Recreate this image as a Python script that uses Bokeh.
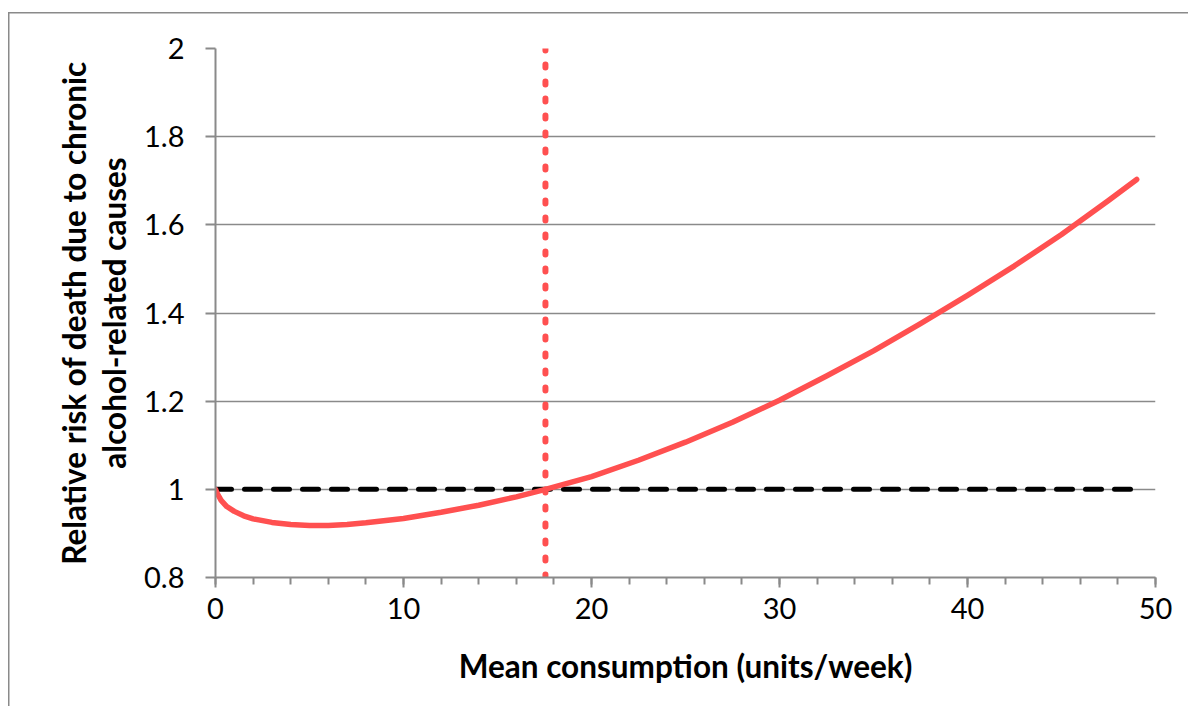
from bokeh.plotting import figure
from bokeh.models import Range1d, FixedTicker
from bokeh.embed import file_html
from bokeh.resources import INLINE

# ---- data ----
consumption = [0, 0.1, 0.3, 0.6, 1, 1.5, 2, 3, 4, 5, 6, 7, 8, 10, 12, 14, 16, 17.55,
               20, 22.5, 25, 27.5, 30, 32.5, 35, 37.5, 40, 42.5, 45, 47.5, 49]
relative_risk = [1.0, 0.99, 0.975, 0.961, 0.95, 0.94, 0.933, 0.925, 0.920, 0.918, 0.918,
                 0.920, 0.924, 0.934, 0.948, 0.964, 0.983, 1.0,
                 1.029, 1.066, 1.107, 1.152, 1.202, 1.257, 1.314, 1.376, 1.44, 1.507,
                 1.578, 1.655, 1.703]
baseline_x = [0, 49]
baseline_y = [1, 1]
threshold_x = [17.55, 17.55]
threshold_y = [0.8, 2.0]

x_ticks = [0, 10, 20, 30, 40, 50]
x_minor_ticks = [0, 2, 4, 6, 8, 10, 12, 14, 16, 18, 20, 22, 24, 26, 28, 30,
                 32, 34, 36, 38, 40, 42, 44, 46, 48, 50]
y_ticks = [0.8, 1.0, 1.2, 1.4, 1.6, 1.8, 2.0]
y_tick_labels = ["0.8", "1", "1.2", "1.4", "1.6", "1.8", "2"]

x_title = "Mean consumption (units/week)"
y_title = "Relative risk of death due to chronic\nalcohol-related causes"

FONT = "Lato"
GRID = "#8a8a8a"
RED = "#ff5050"

p = figure(width=1188, height=706, output_backend="svg", toolbar_location=None,
           x_range=Range1d(0, 50), y_range=Range1d(0.8, 2.0),
           min_border_left=215, min_border_right=33, min_border_top=48, min_border_bottom=129)
p.outline_line_color = None
p.background_fill_color = "white"
p.border_fill_color = None

# outer chart border (only its left / top edges fall inside the window)
p.stylesheets = [""":host {
  background-color: white;
  background-image: linear-gradient(#8a8a8a, #8a8a8a), linear-gradient(#8a8a8a, #8a8a8a);
  background-position: 8px 12px, 8px 12px;
  background-size: 1.5px 100%, 100% 1.5px;
  background-repeat: no-repeat;
}"""]

# axes
p.xaxis.ticker = FixedTicker(ticks=x_ticks, minor_ticks=x_minor_ticks)
p.yaxis.ticker = FixedTicker(ticks=y_ticks)
p.yaxis.major_label_overrides = {t: l for t, l in zip(y_ticks, y_tick_labels)}

for ax in (p.xaxis[0], p.yaxis[0]):
    ax.axis_line_color = GRID
    ax.axis_line_width = 2
    ax.major_tick_line_color = GRID
    ax.major_tick_line_width = 2
    ax.major_tick_in = 0
    ax.major_tick_out = 10
    ax.major_label_text_font = FONT
    ax.major_label_text_font_size = "29px"
    ax.major_label_text_color = "black"
    ax.axis_label_text_font = FONT
    ax.axis_label_text_font_style = "bold"
    ax.axis_label_text_font_size = "31.5px"
    ax.axis_label_text_color = "black"
    ax.axis_label_text_line_height = 1.05

p.xaxis.minor_tick_line_color = GRID
p.xaxis.minor_tick_line_width = 2
p.xaxis.minor_tick_in = 0
p.xaxis.minor_tick_out = 7
p.yaxis.minor_tick_line_color = None
p.xaxis.major_label_standoff = 10
p.yaxis.major_label_standoff = 21
p.xaxis.axis_label = x_title
p.yaxis.axis_label = y_title
p.xaxis.axis_label_standoff = 25
p.yaxis.axis_label_standoff = 8

p.xgrid.grid_line_color = None
p.ygrid.grid_line_color = GRID
p.ygrid.grid_line_width = 1.5

# series
p.line(baseline_x, baseline_y, line_color="black", line_width=5,
       line_dash="16 13", line_cap="round")
p.line(threshold_x, threshold_y, line_color=RED, line_width=6,
       line_dash="3 14", line_cap="round")
p.line(consumption, relative_risk, line_color=RED, line_width=5.5,
       line_cap="round", line_join="round")

open("out.html", "w").write(file_html(p, INLINE))
